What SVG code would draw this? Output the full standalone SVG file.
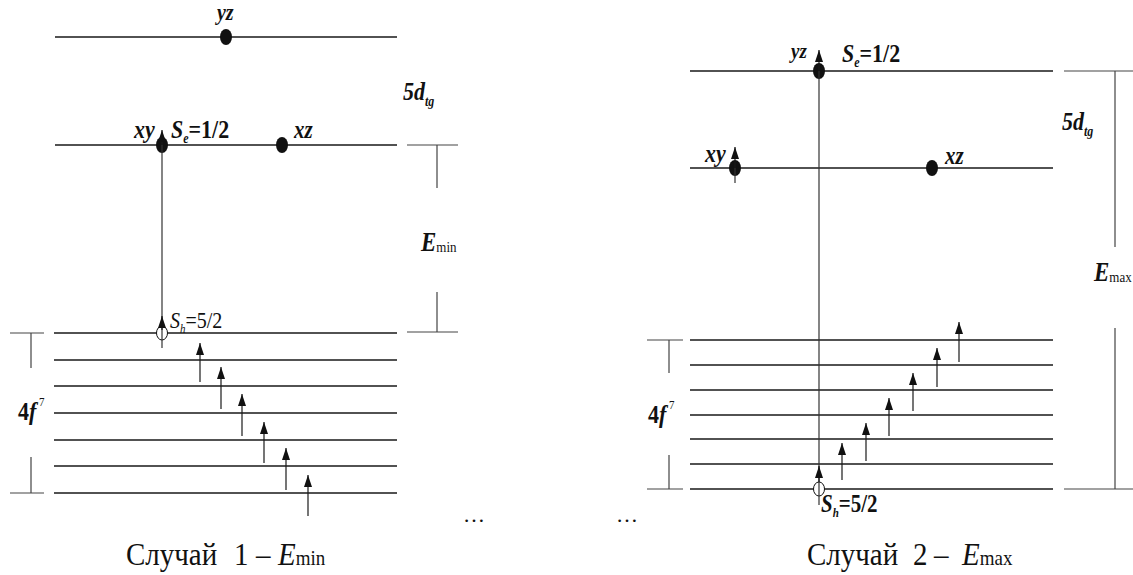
<svg xmlns="http://www.w3.org/2000/svg" width="1133" height="575" viewBox="0 0 1133 575">
<style>
.lv{stroke:#1a1a1a;stroke-width:1.3;fill:none}
.br{stroke:#444;stroke-width:1.2;fill:none}
.vl{stroke:#333;stroke-width:1.2;fill:none}
.ar{stroke:#1a1a1a;stroke-width:1.2;fill:none;marker-end:url(#ah)}
.dot{fill:#111}
.hole{fill:#fff;stroke:#111;stroke-width:1}
text{fill:#111}
.bi{font-weight:bold;font-style:italic}
.b{font-weight:bold}
.i{font-style:italic}
.r{font-weight:normal;font-style:normal}
</style>
<defs>
<marker id="ah" markerUnits="userSpaceOnUse" viewBox="0 0 12 8" refX="12" refY="4" markerWidth="12" markerHeight="8" orient="auto"><path d="M0,0 L12,4 L0,8 Z" fill="#111"/></marker>
</defs>

<g id="left-levels">
<path class="lv" d="M55,37 H397 M55,145 H397"/>
<path class="lv" d="M54,333 H397 M54,360 H397 M54,386 H397 M54,413 H397 M54,440 H397 M54,466 H397 M54,493 H397"/>
</g>
<g id="left-brackets">
<path class="br" d="M407,145 H458 M437,145 V188 M437,292 V332 M407,332 H458"/>
<path class="br" d="M10,333 H44 M31,333 V368 M31,457 V493 M10,493 H44"/>
</g>
<g id="left-yz">
<ellipse class="dot" cx="226" cy="37" rx="6" ry="8"/>
<text font-family="Liberation Serif" class="bi" font-size="20" transform="translate(217,20) scale(1,1.15)">yz</text>
</g>
<g id="left-xy">
<ellipse class="dot" cx="162" cy="145" rx="6" ry="8"/>
<text font-family="Liberation Serif" class="bi" font-size="22" transform="translate(134,138) scale(1,1.15)">xy</text>
<text font-family="Liberation Serif" class="b" font-size="22" transform="translate(171,138) scale(1,1.15)"><tspan class="bi">S</tspan><tspan class="bi" font-size="12" dy="4">e</tspan><tspan dy="-4">=1/2</tspan></text>
</g>
<g id="left-xz">
<ellipse class="dot" cx="282" cy="145" rx="6" ry="8"/>
<text font-family="Liberation Serif" class="bi" font-size="21" transform="translate(294,138) scale(1,1.15)">xz</text>
</g>
<g id="left-hole">
<ellipse class="hole" cx="162" cy="333" rx="5.5" ry="7"/>
<path class="vl" d="M162,320 V348"/>
<text font-family="Liberation Serif" font-size="20" transform="translate(170,328) scale(1,1.15)"><tspan class="i">S</tspan><tspan class="i" font-size="11" dy="4">h</tspan><tspan dy="-4">=5/2</tspan></text>
</g>
<g id="left-labels">
<text font-family="Liberation Serif" class="bi" font-size="22" transform="translate(403,100) scale(1,1.15)">5d<tspan font-size="12" dy="5">tg</tspan></text>
<text font-family="Liberation Serif" class="bi" font-size="23" transform="translate(421,251) scale(1,1.15)">E<tspan class="r" font-size="13" dy="1">min</tspan></text>
<text font-family="Liberation Serif" class="b" font-size="22" transform="translate(18,420) scale(1,1.15)">4<tspan class="bi">f</tspan><tspan class="r" font-size="11" dy="-12"> 7</tspan></text>
</g>

<g id="right-levels">
<path class="lv" d="M690,71 H1053 M690,168 H1053"/>
<path class="lv" d="M690,340 H1053 M690,365 H1053 M690,390 H1053 M690,415 H1053 M690,439 H1053 M690,464 H1053 M690,489 H1053"/>
</g>
<g id="right-brackets">
<path class="br" d="M1064,71 H1133 M1115,71 V247 M1115,328 V489 M1064,489 H1133"/>
<path class="br" d="M647,340 H683 M669,340 V373 M669,455 V489 M647,489 H683"/>
</g>
<g id="right-yz">
<ellipse class="dot" cx="819" cy="71" rx="6" ry="8"/>
<text font-family="Liberation Serif" class="bi" font-size="19" transform="translate(791,58) scale(1,1.15)">yz</text>
<text font-family="Liberation Serif" class="b" font-size="22" transform="translate(842,62) scale(1,1.15)"><tspan class="bi">S</tspan><tspan class="bi" font-size="12" dy="4">e</tspan><tspan dy="-4">=1/2</tspan></text>
</g>
<g id="right-xy">
<ellipse class="dot" cx="735" cy="168" rx="6" ry="8"/>
<path class="vl" d="M735,168 V183"/>
<text font-family="Liberation Serif" class="bi" font-size="22" transform="translate(705,162) scale(1,1.15)">xy</text>
</g>
<g id="right-xz">
<ellipse class="dot" cx="932" cy="168" rx="6" ry="8"/>
<text font-family="Liberation Serif" class="bi" font-size="21" transform="translate(945,164) scale(1,1.15)">xz</text>
</g>
<g id="right-hole">
<ellipse class="hole" cx="819" cy="489" rx="5.5" ry="7"/>
<text font-family="Liberation Serif" class="b" font-size="21" transform="translate(821,512) scale(1,1.15)"><tspan class="bi">S</tspan><tspan class="bi" font-size="11" dy="4">h</tspan><tspan dy="-4">=5/2</tspan></text>
</g>
<g id="right-labels">
<text font-family="Liberation Serif" class="bi" font-size="22" transform="translate(1062,130) scale(1,1.15)">5d<tspan font-size="12" dy="5">tg</tspan></text>
<text font-family="Liberation Serif" class="bi" font-size="23" transform="translate(1094,281) scale(1,1.15)">E<tspan class="r" font-size="13" dy="1">max</tspan></text>
<text font-family="Liberation Serif" class="b" font-size="22" transform="translate(648,423) scale(1,1.15)">4<tspan class="bi">f</tspan><tspan class="r" font-size="11" dy="-12"> 7</tspan></text>
</g>

<g id="connectors">
<path class="vl" d="M162,145 V320"/>
<line class="ar" x1="162" y1="145" x2="162" y2="130"/>
<line class="ar" x1="162" y1="330" x2="162" y2="316"/>
<line class="ar" x1="200" y1="382" x2="200" y2="343"/>
<line class="ar" x1="221" y1="409" x2="221" y2="367"/>
<line class="ar" x1="242" y1="436" x2="242" y2="394"/>
<line class="ar" x1="264" y1="463" x2="264" y2="422"/>
<line class="ar" x1="286" y1="490" x2="286" y2="448"/>
<line class="ar" x1="308" y1="516" x2="308" y2="475"/>
<path class="vl" d="M819,71 V505"/>
<line class="ar" x1="819" y1="71" x2="819" y2="50"/>
<line class="ar" x1="735" y1="168" x2="735" y2="147"/>
<line class="ar" x1="819" y1="482" x2="819" y2="466"/>
<line class="ar" x1="842" y1="480" x2="842" y2="443"/>
<line class="ar" x1="866" y1="461" x2="866" y2="423"/>
<line class="ar" x1="889" y1="436" x2="889" y2="398"/>
<line class="ar" x1="913" y1="411" x2="913" y2="373"/>
<line class="ar" x1="937" y1="387" x2="937" y2="348"/>
<line class="ar" x1="959" y1="362" x2="959" y2="322"/>
</g>

<g id="ellipses">
<text font-family="Liberation Serif" font-size="22" x="463" y="522">…</text>
<text font-family="Liberation Serif" font-size="22" x="616" y="522">…</text>
</g>

<g id="captions">
<text font-family="Liberation Serif" font-size="29" transform="translate(126,565) scale(1,1.1)">Случай<tspan x="108">1</tspan><tspan x="130">–</tspan><tspan class="i" x="152">E</tspan><tspan font-size="19">min</tspan></text>
<text font-family="Liberation Serif" font-size="29" transform="translate(807,565) scale(1,1.1)">Случай<tspan x="106">2</tspan><tspan x="127">–</tspan><tspan class="i" x="155">E</tspan><tspan font-size="19">max</tspan></text>
</g>
</svg>
